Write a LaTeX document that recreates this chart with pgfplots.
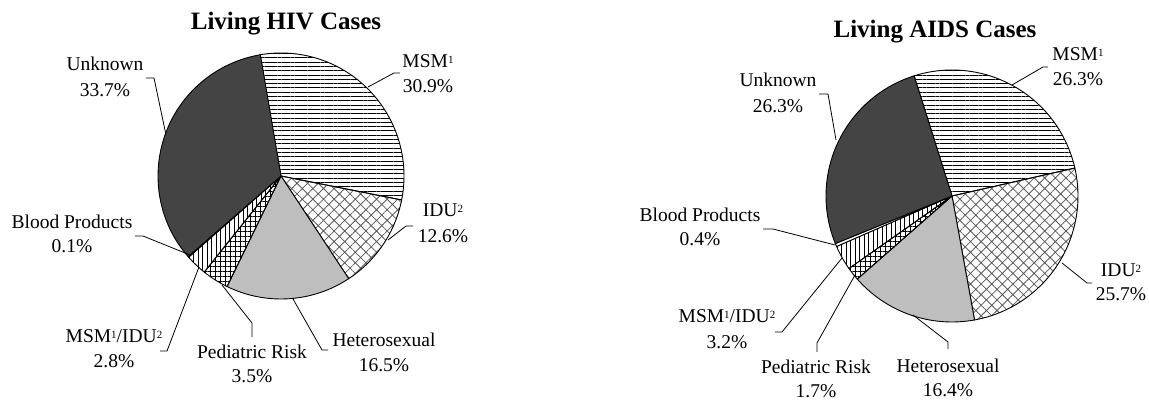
\documentclass[border=0pt]{standalone}
\usepackage{pgfplots}
\pgfplotsset{compat=1.18}
\usepackage{pgfplotstable}
\usetikzlibrary{patterns.meta}
\usepackage{fontspec}
\setmainfont{Liberation Serif}

\definecolor{darkslice}{HTML}{444444}
\definecolor{lightslice}{HTML}{BEBEBE}

\tikzset{
 slice0/.style={pattern={Lines[angle=0,distance=4.3pt,line width=0.75pt]},pattern color=black},
 slice1/.style={pattern={Hatch[angle=45,distance=7.5pt,line width=0.8pt]},pattern color=black!65},
 slice2/.style={fill=lightslice},
 slice3/.style={pattern={Hatch[angle=0,distance=5pt,line width=0.7pt]},pattern color=black},
 slice4/.style={pattern={Lines[angle=90,distance=4.5pt,line width=0.9pt]},pattern color=black},
 slice5/.style={fill=white},
 slice6/.style={fill=darkslice},
}

% percentages, clockwise from the top
\pgfplotstableread{
group pct
MSM 30.9
IDU 12.6
Heterosexual 16.5
Pediatric 3.5
MSMIDU 2.8
Blood 0.1
Unknown 33.7
}\hivdata

\pgfplotstableread{
group pct
MSM 26.3
IDU 25.7
Heterosexual 16.4
Pediatric 1.7
MSMIDU 3.2
Blood 0.4
Unknown 26.3
}\aidsdata

% #1 table, #2 cx, #3 cy, #4 radius, #5 start angle
\newcommand\drawpie[5]{%
 \pgfplotstablegetrowsof{#1}%
 \pgfmathtruncatemacro\lastrow{\pgfplotsretval-1}%
 \xdef\curang{#5}%
 \foreach \i in {0,...,\lastrow}{%
   \pgfplotstablegetelem{\i}{pct}\of{#1}%
   \pgfmathsetmacro\nextang{\curang-3.6*\pgfplotsretval}%
   \filldraw[draw=black,line width=0.9pt,line join=round,slice\i] (axis cs:#2,#3) -- ++(\curang:#4pt) arc[start angle=\curang,end angle=\nextang,radius=#4pt] -- cycle;%
   \xdef\curang{\nextang}%
 }}

\newcommand\lbl{\fontsize{19.5}{23}\selectfont}
\newcommand\supn[1]{\raisebox{0.5ex}{\fontsize{11}{12}\selectfont #1}}
\newcommand\lab[5]{%
 \node[anchor=base,font=\lbl,inner sep=0pt] at (axis cs:#1,#2) {#4};
 \node[anchor=base,font=\lbl,inner sep=0pt] at (axis cs:#1,#3) {#5};}

\begin{document}
\begin{tikzpicture}
\begin{axis}[x=1pt,y=1pt,xmin=0,xmax=1149,ymin=0,ymax=406,hide axis,clip=false]
\addplot[draw=none] coordinates {(0,0) (1149,406)};
\path (axis cs:0,0) rectangle (axis cs:1149,406);
\pgfplotsextra{\drawpie{\hivdata}{281}{230}{123}{100}}
\pgfplotsextra{\drawpie{\aidsdata}{952}{210}{126}{107.5}}

% titles
\node[anchor=base,font=\fontsize{25}{30}\selectfont\bfseries,inner sep=0pt] at (axis cs:286,376) {Living HIV Cases};
\node[anchor=base,font=\fontsize{25}{30}\selectfont\bfseries,inner sep=0pt] at (axis cs:935,368) {Living AIDS Cases};

% HIV labels
\lab{105}{335}{309}{Unknown}{33.7\%}
\lab{428}{338}{313}{MSM\supn{1}}{30.9\%}
\lab{443}{189}{163}{IDU\supn{2}}{12.6\%}
\lab{384}{59}{34}{Heterosexual}{16.5\%}
\lab{252}{47}{23}{Pediatric Risk}{3.5\%}
\lab{114}{63}{38}{MSM\supn{1}/IDU\supn{2}}{2.8\%}
\lab{72}{177}{153}{Blood Products}{0.1\%}
\begin{scope}[line width=0.8pt]
\draw (axis cs:146,328) -- (axis cs:154,328) -- (axis cs:166,271);
\draw (axis cs:368,319) -- (axis cs:394,333) -- (axis cs:400,333);
\draw (axis cs:388,166) -- (axis cs:406,180) -- (axis cs:413,180);
\draw (axis cs:293,107) -- (axis cs:322,56) -- (axis cs:328,56);
\draw (axis cs:222,121) -- (axis cs:252,83) -- (axis cs:252,69);
\draw (axis cs:199,139) -- (axis cs:167,55) -- (axis cs:160,55);
\draw (axis cs:190,151) -- (axis cs:143,170) -- (axis cs:135,170);
\end{scope}

% AIDS labels
\lab{778}{319}{293}{Unknown}{26.3\%}
\lab{1078}{345}{320}{MSM\supn{1}}{26.3\%}
\lab{1121}{129}{105}{IDU\supn{2}}{25.7\%}
\lab{948}{33}{9}{Heterosexual}{16.4\%}
\lab{816}{32}{8}{Pediatric Risk}{1.7\%}
\lab{727}{83}{57}{MSM\supn{1}/IDU\supn{2}}{3.2\%}
\lab{700}{184}{160}{Blood Products}{0.4\%}
\begin{scope}[line width=0.8pt]
\draw (axis cs:819,312) -- (axis cs:828,312) -- (axis cs:836,266);
\draw (axis cs:1012,321) -- (axis cs:1043,339) -- (axis cs:1048,339);
\draw (axis cs:1062,143) -- (axis cs:1087,123) -- (axis cs:1092,123);
\draw (axis cs:913,91) -- (axis cs:948,64) -- (axis cs:948,57);
\draw (axis cs:855,131) -- (axis cs:817,63) -- (axis cs:817,54);
\draw (axis cs:842,148) -- (axis cs:782,74) -- (axis cs:775,74);
\draw (axis cs:835,161) -- (axis cs:773,177) -- (axis cs:763,177);
\end{scope}
\end{axis}
\end{tikzpicture}
\end{document}
